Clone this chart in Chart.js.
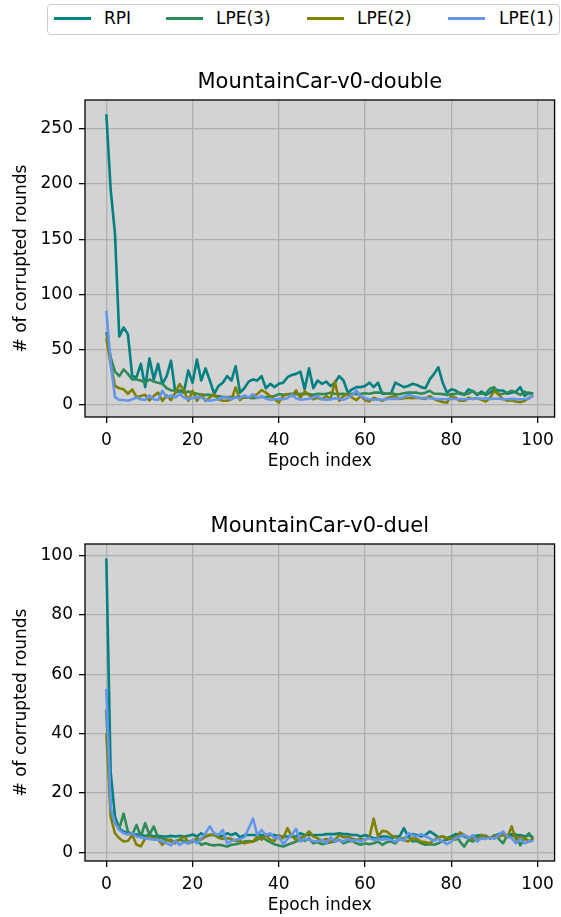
<!DOCTYPE html>
<html>
<head>
<meta charset="utf-8">
<title>MountainCar-v0 corrupted rounds</title>
<script src="https://cdn.jsdelivr.net/npm/chart.js@4.4.0/dist/chart.umd.min.js"></script>
<style>
  html, body { margin: 0; padding: 0; background: #fff; overflow: hidden; }
  body { width: 561px; height: 917px; position: relative; font-family: 'DejaVu Sans', sans-serif; }
  .legend-box {
    position: absolute; left: 47px; top: 4px; width: 513px; height: 31px;
    box-sizing: border-box; border: 1px solid #cccccc; border-radius: 4px; background: #fff;
  }
  .legend-line { position: absolute; top: 17px; height: 2.6px; width: 37px; }
  .legend-text { position: absolute; top: 8px; font-size: 17px; line-height: 20px; color: #000; white-space: nowrap; }
  canvas { position: absolute; left: 0; }
</style>
</head>
<body>
<div class="legend-box"></div>
<div class="legend-line" style="left:54px;background:#008080"></div>
<div class="legend-text" style="left:104px">RPI</div>
<div class="legend-line" style="left:166px;background:#2e8b57"></div>
<div class="legend-text" style="left:216px">LPE(3)</div>
<div class="legend-line" style="left:307px;background:#808000"></div>
<div class="legend-text" style="left:357px">LPE(2)</div>
<div class="legend-line" style="left:448px;background:#6495ed"></div>
<div class="legend-text" style="left:499px">LPE(1)</div>

<canvas id="doubleChart" width="561" height="413" style="top:60px;width:561px;height:413px"></canvas>
<canvas id="duelChart" width="561" height="413" style="top:504px;width:561px;height:413px"></canvas>

<script>
// epoch index 0..99 (x positions)
const epochs = Array.from({ length: 100 }, (_, i) => i);
const xTicks = [0, 20, 40, 60, 80, 100];
const doubleYTicks = [0, 50, 100, 150, 200, 250];
const duelYTicks = [0, 20, 40, 60, 80, 100];

const seriesNames = ['RPI', 'LPE(3)', 'LPE(2)', 'LPE(1)'];
const seriesColors = ['#008080', '#2e8b57', '#808000', '#6495ed'];

// MountainCar-v0-double
const doubleRPI = [263, 195, 155, 62, 70, 64, 26, 25, 37, 16,
    42, 23, 37, 19, 26, 40, 11, 13, 12, 31,
    20, 41, 22, 33, 22, 10, 17, 20, 26, 22,
    35, 11, 15, 21, 23, 22, 26, 15, 19, 16,
    19, 20, 25, 27, 28, 30, 14, 33, 15, 22,
    19, 21, 17, 20, 26, 22, 11, 14, 16, 16,
    17, 20, 16, 20, 10, 10, 10, 20, 18, 16,
    17, 19, 18, 16, 15, 23, 28, 34, 20, 11,
    14, 13, 10, 9, 14, 12, 9, 12, 9, 11,
    14, 13, 13, 10, 11, 12, 16, 8, 11, 10];
const doubleLPE3 = [66, 43, 30, 26, 32, 28, 23, 23, 22, 20,
    23, 21, 20, 19, 15, 13, 13, 12, 11, 12,
    11, 10, 9, 9, 9, 8, 8, 7, 7, 7,
    7, 7, 6.5, 6.4, 6, 6.4, 7, 7, 7.5, 8,
    9.7, 9, 9.5, 10, 9.7, 9.7, 10, 9.7, 9, 10,
    9.7, 10, 11, 10, 9.7, 10, 9, 10, 9.7, 10,
    10.5, 10, 11, 11, 11, 10, 10.5, 9.7, 9.5, 10.5,
    11, 11, 11, 10, 11, 12.7, 10, 10, 9.7, 9,
    9.5, 10, 11, 9.7, 10, 12.7, 9.7, 10, 10.3, 14.7,
    15.8, 9.7, 10, 11, 12.7, 11, 9, 12, 10, 9.7];
const doubleLPE2 = [60, 37, 17, 15, 14, 10, 14, 7, 8, 9,
    4, 8, 11, 3.6, 8.5, 4.3, 11, 18.8, 12.7, 3.6,
    12.7, 3.6, 9.7, 3.6, 6.6, 9.7, 5, 3.6, 3.6, 5,
    15.8, 4.3, 7.3, 6.6, 8, 9.7, 13.3, 11, 8, 5,
    2, 8, 9.7, 8, 13, 6.4, 12, 9, 5, 6.4,
    5, 8, 5, 21, 3.6, 8, 9.7, 6.4, 4.2, 8,
    4.2, 3, 6.4, 5, 3.6, 6, 7, 8, 5.2, 6,
    6.4, 6, 6.4, 6, 5.2, 8, 5.2, 3.6, 2.5, 2,
    8, 6.4, 3.6, 3.6, 6.4, 5.2, 6, 4.5, 3, 6.4,
    12.7, 9, 5.2, 3.6, 4.2, 3, 2.4, 3.6, 6.4, 8];
const doubleLPE1 = [85, 38, 7, 4.3, 4.3, 3.6, 5, 6.6, 5, 4.3,
    8.5, 5, 4.3, 12.7, 6.6, 8.5, 6.6, 9.7, 6.6, 5,
    6, 7, 6.6, 4.3, 3.6, 4.3, 5, 6.6, 6.6, 5,
    6.6, 6, 8.5, 6.6, 9.7, 6, 8, 5.5, 4.5, 5,
    5.5, 5, 6, 9, 6, 4.5, 5, 5.5, 6.4, 8,
    5, 4.5, 5, 6, 5.5, 4.5, 6.4, 9, 13, 8,
    6, 5, 4.5, 5, 4.5, 5, 5.5, 5.2, 6, 7,
    9, 8, 7, 6, 6.4, 6, 5.5, 5.2, 5, 5.2,
    5.5, 5.2, 5, 5, 5.2, 5.5, 6, 5.5, 6, 5.2,
    5.5, 5.5, 5, 5.2, 5.5, 5.2, 5, 5.2, 5.5, 9];

// MountainCar-v0-duel
const duelRPI = [99, 27, 12, 8, 7, 6.4, 6, 6, 5.8, 5.5,
    5.8, 5.3, 5.5, 5.3, 5.3, 5.5, 5.3, 5.5, 5.3, 5.5,
    6, 5.3, 6.4, 5.3, 5.8, 5.8, 5.5, 5.5, 6.4, 5.8,
    6.4, 5, 5.8, 5.8, 5.8, 5.8, 5.8, 5.8, 5.8, 5.8,
    5.3, 5.3, 5.3, 5.3, 5.3, 6.4, 5.8, 5.8, 5.8, 5.8,
    5.8, 6.1, 6.1, 6.1, 6.4, 6.1, 6.1, 5.8, 5.8, 5.3,
    5.8, 5.3, 4.7, 4.7, 5.3, 5.3, 4.7, 5.3, 5.3, 8.1,
    5.3, 6.1, 5.8, 5.3, 5.8, 7, 6.1, 5, 5.3, 4.7,
    5.3, 6.1, 5.8, 5.3, 4.7, 5.3, 5.6, 5.8, 5.3, 4.7,
    5.6, 6.1, 6.4, 5.3, 6.1, 5.6, 5.8, 5.3, 5.8, 5];
const duelLPE3 = [48, 14, 10, 8, 13, 7, 5.9, 9.2, 5.3, 9.8,
    5.9, 8.7, 4.9, 4.7, 4.2, 3.6, 3.8, 4.2, 3.8, 3,
    3.6, 4.2, 2.5, 3, 2.5, 2.3, 2.5, 2.3, 1.9, 2.5,
    2.7, 3, 3.6, 3.8, 3.6, 4.2, 5.3, 4.2, 3.4, 2.7,
    2.3, 1.9, 2.5, 3, 3.6, 4.5, 3.8, 4.7, 3, 3.4,
    2.7, 3, 3.4, 3.6, 4.2, 3, 3.6, 3.8, 3, 2.5,
    3, 2.7, 3, 3.6, 2.5, 3.4, 3.6, 3, 4.5, 4.7,
    5.3, 3.6, 3.8, 3, 2.5, 2.7, 2.5, 3, 3.8, 4.2,
    4.7, 5.8, 3.6, 1.9, 4.2, 3.6, 5.3, 4.7, 5.6, 4.7,
    5.8, 4.5, 3, 5.8, 5.3, 6.1, 2.3, 4.7, 6.4, 4.2];
const duelLPE2 = [40, 12, 6.4, 4.7, 3.6, 3.8, 5.8, 2.5, 2, 4.7,
    5.3, 4.7, 4.2, 2.5, 4.2, 4.2, 3, 4.2, 5.3, 3.6,
    3.8, 4.7, 4.2, 5.3, 5.9, 5.8, 4.9, 4.5, 4.7, 4.5,
    3.8, 3.8, 3, 3.4, 3.6, 5.3, 4.2, 5.8, 4.2, 3.8,
    5.8, 4.7, 8.1, 5.3, 4.2, 5, 5.3, 7, 5.3, 4.7,
    3.8, 4.5, 3.4, 4.2, 5.8, 5, 5.3, 4.5, 4.2, 4.5,
    4.2, 5, 11.3, 5.3, 7.2, 7, 5.8, 5, 4.5, 4.2,
    3.6, 4.7, 4.5, 3.6, 3.4, 3, 4.2, 5, 5.3, 4.7,
    4.7, 4.2, 6.7, 5.8, 5, 4.5, 3.8, 5.8, 5.3, 4.7,
    5.3, 5.3, 5.8, 5, 8.7, 4.2, 5.3, 4.7, 3.8, 4.2];
const duelLPE1 = [55, 15, 9.8, 7.5, 6.4, 6, 6.4, 5.3, 5, 4.7,
    4.5, 4.2, 4.2, 3.6, 3, 2.3, 3.8, 2.5, 3.4, 3,
    4.2, 3, 4.7, 6.4, 8.7, 6.4, 5.8, 7.5, 3, 3.8,
    4.2, 4.5, 5, 8, 11.3, 5.8, 7.5, 5.8, 6.4, 4.7,
    5.3, 2.7, 4.5, 5.8, 7.9, 3.6, 4.5, 4.2, 3.8, 3.6,
    4.2, 3, 5, 3.8, 4.2, 3.6, 4.5, 3.8, 4.2, 3.6,
    4.5, 4.7, 4.2, 4.5, 4.2, 4.5, 4.2, 3.6, 4.5, 3.8,
    6.4, 5.8, 5.3, 6.1, 5.3, 4.7, 3.8, 4.5, 3.6, 2.7,
    3.6, 4.7, 5.3, 5.8, 4.7, 5.8, 3.6, 4.7, 4.5, 5,
    4.5, 5.8, 7, 5.3, 4.7, 3, 4.5, 3, 3.6, 3.8];

Chart.defaults.font.family = "'DejaVu Sans', sans-serif";
Chart.defaults.color = '#000';

// grey plot background and black frame like matplotlib axes
const plotFrame = {
    id: 'plotFrame',
    beforeDraw(chart) {
        const { ctx, chartArea: a } = chart;
        ctx.save();
        ctx.fillStyle = '#d3d3d3';
        ctx.fillRect(a.left, a.top, a.width, a.height);
        ctx.restore();
    },
    afterDraw(chart) {
        const { ctx, chartArea: a } = chart;
        ctx.save();
        ctx.strokeStyle = '#000';
        ctx.lineWidth = 1.3;
        ctx.strokeRect(a.left, a.top, a.width, a.height);
        ctx.restore();
    }
};

function makeChart(canvasId, title, series, yTicks) {
    const all = series.flat();
    const lo = Math.min(...all);
    const hi = Math.max(...all);
    const pad = (hi - lo) * 0.05;

    const gridOpts = {
        color: '#b0b0b0',
        lineWidth: 1.3,
        tickLength: 6,
        tickColor: '#000',
        tickWidth: 1.3
    };

    return new Chart(document.getElementById(canvasId), {
        type: 'line',
        data: {
            datasets: series.map((values, k) => ({
                label: seriesNames[k],
                data: values.map((v, i) => ({ x: epochs[i], y: v })),
                borderColor: seriesColors[k],
                backgroundColor: seriesColors[k],
                borderWidth: 2.6,
                borderJoinStyle: 'round',
                pointRadius: 0,
                tension: 0,
                order: series.length - k
            }))
        },
        options: {
            responsive: false,
            animation: false,
            layout: { padding: { left: 0, right: 5, top: 0, bottom: 0 } },
            plugins: {
                legend: { display: false },
                tooltip: { enabled: false },
                title: {
                    display: true,
                    text: title,
                    fullSize: false,
                    font: { size: 21, weight: 'normal' },
                    padding: { top: 10, bottom: 4.8 }
                }
            },
            scales: {
                x: {
                    type: 'linear',
                    min: -4.95,
                    max: 103.95,
                    afterBuildTicks: s => { s.ticks = xTicks.map(v => ({ value: v })); },
                    afterFit: s => { s.height = 56; },
                    ticks: { padding: 7, font: { size: 17 }, autoSkip: false, maxRotation: 0 },
                    grid: gridOpts,
                    border: { display: false },
                    title: { display: true, text: 'Epoch index', font: { size: 17 }, padding: { top: 0, bottom: 1 } }
                },
                y: {
                    type: 'linear',
                    min: lo - pad,
                    max: hi + pad,
                    afterBuildTicks: s => { s.ticks = yTicks.map(v => ({ value: v })); },
                    afterFit: s => { s.width = 85; },
                    ticks: { padding: 6, font: { size: 17 }, autoSkip: false },
                    grid: gridOpts,
                    border: { display: false },
                    title: { display: true, text: '# of corrupted rounds', font: { size: 17 }, padding: { top: 11, bottom: 0 } }
                }
            }
        },
        plugins: [plotFrame]
    });
}

makeChart('doubleChart', 'MountainCar-v0-double', [doubleRPI, doubleLPE3, doubleLPE2, doubleLPE1], doubleYTicks);
makeChart('duelChart', 'MountainCar-v0-duel', [duelRPI, duelLPE3, duelLPE2, duelLPE1], duelYTicks);
</script>
</body>
</html>
